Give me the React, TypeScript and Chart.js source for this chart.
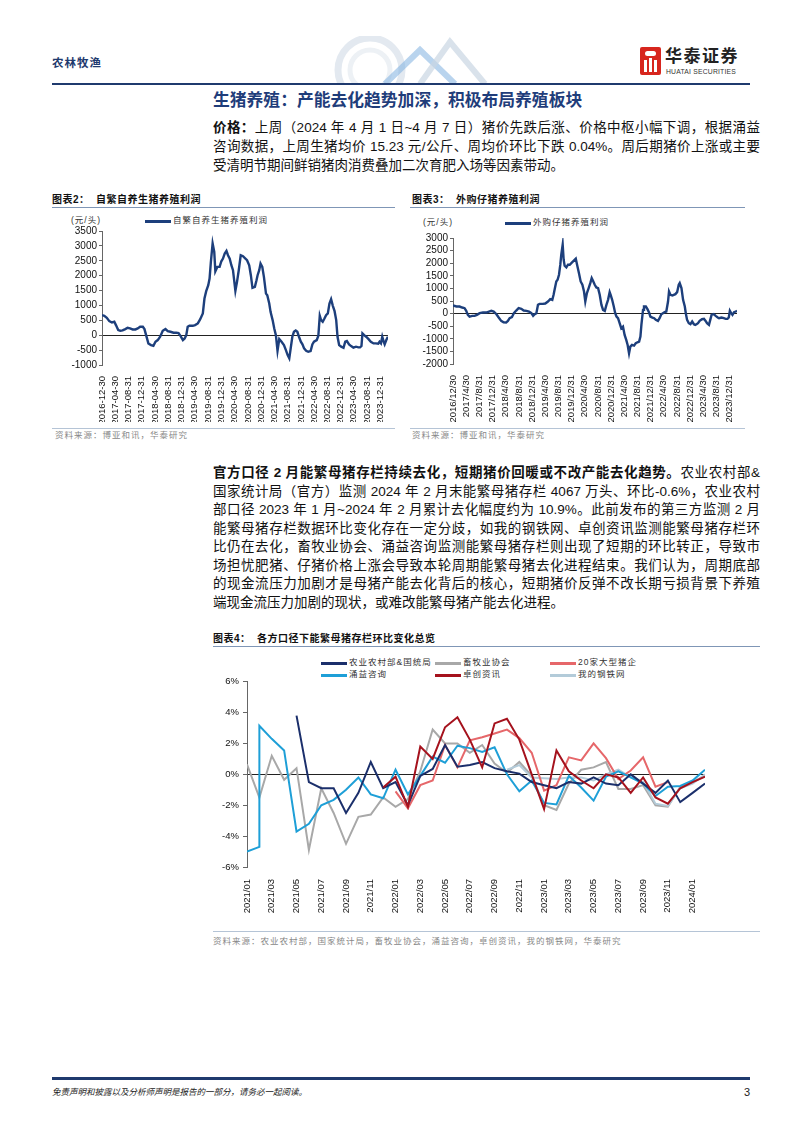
import React, { useEffect, useRef } from 'react';
import { Chart, registerables } from 'chart.js';
Chart.register(...registerables);

const FONT = '"Liberation Sans", Arial, "Noto Sans CJK SC", sans-serif';

// ---------- Chart 2: 自繁自养生猪养殖利润 ----------
const selfDates = ['2016-12-30','2017-01-20','2017-02-12','2017-03-07','2017-03-31','2017-04-22','2017-05-07','2017-05-28','2017-06-16','2017-07-07',
'2017-08-01','2017-08-22','2017-09-13','2017-10-08','2017-11-02','2017-11-23','2017-12-15','2018-01-09','2018-01-24','2018-02-08',
'2018-03-01','2018-03-25','2018-04-16','2018-05-05','2018-05-26','2018-06-17','2018-07-11','2018-08-05','2018-08-26','2018-09-20',
'2018-10-18','2018-11-12','2018-12-03','2018-12-22','2019-01-12','2019-01-28','2019-02-12','2019-02-25','2019-03-13','2019-04-13',
'2019-05-04','2019-05-29','2019-06-19','2019-07-14','2019-07-29','2019-08-14','2019-09-02','2019-09-14','2019-09-26','2019-10-12',
'2019-10-27','2019-11-06','2019-11-24','2019-12-15','2019-12-31','2020-01-15','2020-01-31','2020-02-16','2020-03-01','2020-03-17',
'2020-04-01','2020-04-16','2020-05-08','2020-05-23','2020-06-08','2020-06-26','2020-07-17','2020-08-08','2020-08-23','2020-09-12',
'2020-09-27','2020-10-12','2020-11-03','2020-11-18','2020-11-28','2020-12-13','2020-12-25','2021-01-10','2021-01-25','2021-02-13',
'2021-02-25','2021-03-15','2021-03-27','2021-04-15','2021-04-30','2021-05-15','2021-05-30','2021-06-15','2021-07-06','2021-07-28',
'2021-08-15','2021-08-31','2021-09-15','2021-09-28','2021-10-13','2021-10-28','2021-11-13','2021-11-28','2021-12-13','2021-12-30',
'2022-01-14','2022-01-29','2022-02-17','2022-03-08','2022-03-30','2022-04-15','2022-04-30','2022-05-25','2022-06-09','2022-06-22',
'2022-07-04','2022-07-19','2022-08-04','2022-08-19','2022-09-04','2022-09-19','2022-10-04','2022-10-20','2022-11-05','2022-11-20',
'2022-12-02','2022-12-17','2023-01-05','2023-01-26','2023-02-11','2023-02-26','2023-03-18','2023-04-06','2023-04-27','2023-05-21',
'2023-06-12','2023-06-27','2023-07-10','2023-07-19','2023-08-04','2023-08-22','2023-09-13','2023-10-04','2023-10-29','2023-11-19',
'2023-12-11','2023-12-23','2024-01-05','2024-01-17','2024-01-30','2024-02-08','2024-02-23','2024-03-09'];
const selfProfit = [675,652,585,474,429,451,340,172,150,161,
206,250,228,194,194,228,284,284,206,4,
-275,-331,-353,-219,-163,-51,150,206,139,116,
83,83,71,-29,-163,-107,4,284,317,317,
340,395,529,731,1233,1479,1680,1903,2462,3080,
2797,2149,2294,2294,2484,2573,2741,2830,2685,2573,
2350,2183,1490,1792,2183,2685,2652,2573,2518,2350,
2015,1591,1624,1848,2015,2183,2406,2294,1959,1400,
1345,1066,786,507,228,4,-521,-130,-219,-331,
-499,-666,-777,-443,-51,116,161,116,-51,-219,
-308,-443,-521,-554,-532,-308,-219,-163,-18,652,
507,451,563,675,731,1066,1211,987,808,507,
-51,-331,-386,-420,-219,-197,-308,-364,-420,-386,
-409,-409,-364,60,4,-51,-130,-219,-275,-275,
-286,-219,-275,-51,-219,-308,-163,-51];
const selfTickDates = ['2016-12-30','2017-04-30','2017-08-31','2017-12-31','2018-04-30','2018-08-31','2018-12-31','2019-04-30','2019-08-31','2019-12-31','2020-04-30','2020-08-31','2020-12-31','2021-04-30','2021-08-31','2021-12-31','2022-04-30','2022-08-31','2022-12-31','2023-04-30','2023-08-31','2023-12-31'];
const selfTickLabels = selfTickDates;

// ---------- Chart 3: 外购仔猪养殖利润 ----------
const buyDates = ['2016-12-30','2017-01-31','2017-03-01','2017-03-25','2017-04-16','2017-05-01','2017-05-16','2017-06-01','2017-06-26','2017-07-17',
'2017-08-08','2017-09-02','2017-10-03','2017-11-03','2017-11-27','2017-12-19','2018-01-10','2018-02-04','2018-02-25','2018-03-20',
'2018-04-11','2018-05-05','2018-05-21','2018-06-06','2018-06-27','2018-07-15','2018-08-06','2018-08-28','2018-09-22','2018-10-14',
'2018-11-08','2018-12-02','2018-12-24','2019-01-09','2019-01-24','2019-02-08','2019-02-23','2019-03-10','2019-04-10','2019-05-01',
'2019-05-26','2019-06-16','2019-07-05','2019-07-17','2019-07-29','2019-08-11','2019-08-23','2019-09-05','2019-09-17','2019-09-26',
'2019-10-09','2019-10-18','2019-10-27','2019-11-12','2019-11-27','2019-12-13','2019-12-28','2020-01-13','2020-01-29','2020-02-07',
'2020-02-19','2020-03-07','2020-03-23','2020-04-08','2020-04-23','2020-05-05','2020-05-20','2020-06-05','2020-06-20','2020-07-03',
'2020-07-15','2020-07-31','2020-08-15','2020-08-31','2020-09-15','2020-10-01','2020-10-16','2020-11-01','2020-11-16','2020-12-01',
'2020-12-16','2020-12-25','2021-01-08','2021-01-23','2021-02-05','2021-02-17','2021-03-03','2021-03-18','2021-04-02','2021-04-18',
'2021-05-03','2021-05-18','2021-05-31','2021-06-13','2021-06-25','2021-07-10','2021-07-29','2021-08-14','2021-08-30','2021-09-14',
'2021-09-26','2021-10-05','2021-10-20','2021-10-29','2021-11-15','2021-11-30','2021-12-15','2021-12-27','2022-01-15','2022-01-31',
'2022-02-15','2022-03-07','2022-03-22','2022-04-07','2022-04-22','2022-05-08','2022-05-23','2022-06-08','2022-06-17','2022-06-30',
'2022-07-18','2022-07-31','2022-08-15','2022-08-31','2022-09-15','2022-09-24','2022-10-10','2022-10-25','2022-11-10','2022-11-19',
'2022-12-01','2022-12-17','2023-01-01','2023-01-17','2023-02-02','2023-02-14','2023-02-26','2023-03-12','2023-03-27','2023-04-18',
'2023-05-06','2023-05-21','2023-06-03','2023-06-21','2023-07-03','2023-07-15','2023-08-04','2023-08-22','2023-09-10','2023-09-22',
'2023-10-14','2023-11-05','2023-11-23','2023-12-09','2023-12-21','2023-12-31','2024-01-12','2024-01-24','2024-02-08','2024-02-23','2024-03-06'];
const buyProfit = [321,281,281,241,215,109,-50,-117,-90,-90,
-50,16,42,42,82,109,82,-24,-156,-289,
-342,-355,-289,-183,-143,16,122,215,188,122,
109,82,16,-90,-24,16,347,387,387,400,
480,573,546,745,1010,1276,1342,1541,1939,2336,
2734,2138,1899,1833,1939,1939,2005,2071,2138,2177,
1939,1607,1276,1143,878,480,812,1010,1209,1408,
1302,1143,1037,1010,745,347,149,109,347,546,
851,745,546,281,16,-117,-183,-382,-581,-515,
-846,-1045,-1244,-1575,-1310,-1244,-1270,-1177,-1138,-1111,
-912,-448,149,281,281,175,42,-117,-156,-183,
-249,-289,-183,-24,16,56,82,480,878,745,
719,745,772,851,1143,1209,1010,546,281,16,
-249,-382,-422,-316,-422,-448,-422,-382,-289,-223,
-210,-289,-382,-448,-249,-50,-24,-90,-156,-183,
-156,-183,-210,-210,-156,109,16,-50,56,82,109];
const buyTickDates = selfTickDates;
const buyTickLabels = ['2016/12/30','2017/4/30','2017/8/31','2017/12/31','2018/4/30','2018/8/31','2018/12/31','2019/4/30','2019/8/31','2019/12/31','2020/4/30','2020/8/31','2020/12/31','2021/4/30','2021/8/31','2021/12/31','2022/4/30','2022/8/31','2022/12/31','2023/4/30','2023/8/31','2023/12/31'];

// ---------- Chart 4: 各方口径下能繁母猪存栏环比变化 (%) ----------
const months = ['2021/01','2021/02','2021/03','2021/04','2021/05','2021/06','2021/07','2021/08','2021/09','2021/10','2021/11','2021/12',
'2022/01','2022/02','2022/03','2022/04','2022/05','2022/06','2022/07','2022/08','2022/09','2022/10','2022/11','2022/12',
'2023/01','2023/02','2023/03','2023/04','2023/05','2023/06','2023/07','2023/08','2023/09','2023/10','2023/11','2023/12',
'2024/01','2024/02'];
const N = null;
const ministry = [N,N,N,N,3.8,-0.5,-0.9,-0.9,-2.5,-1.2,0.8,-0.9,-0.5,-2.0,-0.1,0.35,1.9,0.5,0.6,0.8,0.4,0.2,0.05,-0.5,-0.7,-0.9,-0.5,-0.6,-0.2,-0.6,-0.7,0.0,-0.6,-1.2,-0.4,-1.8,-1.2,-0.6];
const association = [0.65,-1.5,1.2,-0.35,0.4,-4.9,-0.9,-2.5,-4.5,-2.75,-2.6,-1.5,-2.1,-1.6,0.2,2.9,2.0,2.0,1.4,1.9,0.7,0.1,0.8,-0.1,-2.0,-2.3,-0.6,0.3,0.45,0.8,-0.95,-0.95,-0.7,-2.0,-2.1,-0.8,-0.5,-0.1];
const big20 = [N,N,N,N,N,N,N,N,N,N,N,N,-1.1,-2.2,-0.7,-0.4,1.9,0.45,2.2,2.4,2.65,2.9,2.35,1.4,-1.05,-0.7,1.1,0.9,2.0,1.05,-0.3,0.25,1.1,-0.8,-0.5,N,N,N];
const yongyi = [-5.0,3.15,2.3,1.55,-3.7,-3.2,-2.0,-1.65,-1.0,-0.2,-1.3,-1.55,0.3,-1.3,-0.1,1.15,0.75,1.85,1.7,1.45,1.75,0.0,-1.1,-0.4,-1.85,-1.95,-0.1,-0.85,-1.7,-0.15,0.2,-0.2,-0.6,-1.4,-0.8,-0.75,-0.4,0.3];
const yongyiFeb2021Low = -4.7;
const zhuochuang = [N,N,N,N,N,N,N,N,N,N,N,-0.85,-0.15,-2.1,1.8,1.0,3.05,3.7,2.25,0.45,3.3,3.6,2.25,0.0,-2.25,1.55,0.2,-0.4,-0.9,0.0,-0.2,-1.2,-0.2,-1.5,-1.9,-0.9,-0.5,-0.15];
const mysteel = [N,N,N,N,N,N,N,N,N,N,N,N,N,N,N,N,N,N,N,N,N,0.3,0.6,-0.2,-0.25,-0.3,-0.2,-0.2,-0.4,0.0,0.3,-0.2,-0.5,-1.9,-2.05,-0.9,-0.6,0.0];

const toMs = (d: string) => { const [y, m, dd] = d.split('-').map(Number); return Date.UTC(y, m - 1, dd); };

function ProfitChart(props: any) {
  const ref = useRef<HTMLCanvasElement>(null);
  const { left, top, w, h, yW, xH, padTop, padRight, dates, values, tickDates, tickLabels, yMin, yMax, step } = props;
  useEffect(() => {
    const pts = values.map((v: number, i: number) => ({ x: toMs(dates[i]), y: v }));
    const chart = new Chart(ref.current as HTMLCanvasElement, {
      type: 'line',
      data: { datasets: [{ data: pts, borderColor: '#1d3f7c', borderWidth: 2.4, pointRadius: 0, tension: 0, fill: false }] },
      options: {
        animation: false, responsive: false, devicePixelRatio: 1,
        layout: { padding: { top: padTop, right: padRight, left: 0, bottom: 0 } },
        plugins: { legend: { display: false }, tooltip: { enabled: false } },
        scales: {
          x: {
            type: 'linear', min: toMs(dates[0]), max: toMs(dates[dates.length - 1]),
            afterBuildTicks: (s: any) => { s.ticks = tickDates.map((d: string) => ({ value: toMs(d) })); },
            afterFit: (s: any) => { s.height = xH; },
            ticks: { autoSkip: false, minRotation: 90, maxRotation: 90, padding: 3, color: '#111', font: { family: FONT, size: 9.5 }, callback: (_v: any, i: number) => tickLabels[i] },
            grid: { display: false }, border: { display: false },
          },
          y: {
            min: yMin, max: yMax,
            afterFit: (s: any) => { s.width = yW; },
            ticks: { stepSize: step, autoSkip: false, padding: 2, color: '#111', font: { family: FONT, size: 10 }, callback: (v: any) => String(v) },
            grid: { color: (c: any) => (c.tick && c.tick.value === 0 ? '#222' : 'rgba(0,0,0,0)'), tickColor: '#666', tickLength: 3, lineWidth: 1 },
            border: { display: true, color: '#666', width: 1 },
          },
        },
      },
    } as any);
    return () => chart.destroy();
  }, []);
  return <canvas ref={ref} width={w} height={h} style={{ position: 'absolute', left, top, width: w, height: h }} />;
}

function SowChart() {
  const ref = useRef<HTMLCanvasElement>(null);
  useEffect(() => {
    const toPts = (arr: (number | null)[]) => arr.map((v, i) => ({ x: i, y: v }));
    const yongyiPts = toPts(yongyi);
    yongyiPts.splice(1, 0, { x: 1, y: yongyiFeb2021Low });
    const ds = (label: string, pts: any[], color: string, order: number) => ({ label, data: pts, borderColor: color, borderWidth: 2, pointRadius: 0, tension: 0, fill: false, spanGaps: false, order });
    const chart = new Chart(ref.current as HTMLCanvasElement, {
      type: 'line',
      data: {
        datasets: [
          ds('农业农村部&国统局', toPts(ministry), '#1b2f6b', 1),
          ds('畜牧业协会', toPts(association), '#a8a8a8', 5),
          ds('20家大型猪企', toPts(big20), '#e6676a', 3),
          ds('涌益咨询', yongyiPts, '#1e9fd7', 2),
          ds('卓创资讯', toPts(zhuochuang), '#a5121d', 0),
          ds('我的钢铁网', toPts(mysteel), '#b3cbd9', 4),
        ],
      },
      options: {
        animation: false, responsive: false, devicePixelRatio: 1,
        layout: { padding: { top: 7, right: 55, left: 0, bottom: 0 } },
        plugins: { legend: { display: false }, tooltip: { enabled: false } },
        scales: {
          x: {
            type: 'linear', min: 0, max: months.length - 1,
            afterBuildTicks: (s: any) => { s.ticks = months.map((_m, i) => i).filter((i) => i % 2 === 0).map((v) => ({ value: v })); },
            afterFit: (s: any) => { s.height = 63; },
            ticks: { autoSkip: false, minRotation: 90, maxRotation: 90, padding: 4, color: '#111', font: { family: FONT, size: 9.5 }, callback: (v: any) => months[v] },
            grid: { display: false }, border: { display: false },
          },
          y: {
            min: -6, max: 6,
            afterFit: (s: any) => { s.width = 34; },
            ticks: { stepSize: 2, autoSkip: false, padding: 4, color: '#111', font: { family: FONT, size: 9.5 }, callback: (v: any) => v + '%' },
            grid: { color: (c: any) => (c.tick && c.tick.value === 0 ? '#222' : 'rgba(0,0,0,0)'), tickColor: '#666', tickLength: 4, lineWidth: 1 },
            border: { display: true, color: '#666', width: 1 },
          },
        },
      },
    } as any);
    return () => chart.destroy();
  }, []);
  return <canvas ref={ref} width={547} height={258} style={{ position: 'absolute', left: 213, top: 672, width: 547, height: 258 }} />;
}

const Txt = ({ x, y, size, children, style }: any) => (
  <div style={{ position: 'absolute', left: x, top: y - size * 0.7, fontSize: size, lineHeight: `${size * 1.4}px`, whiteSpace: 'nowrap', fontFamily: FONT, color: '#111', ...style }}>{children}</div>
);
const HLine = ({ x, y, w, h, c }: any) => <div style={{ position: 'absolute', left: x, top: y, width: w, height: h, background: c }} />;

const LegendItem = ({ x, y, color, label, size = 8.5, lw = 26 }: any) => (
  <>
    <div style={{ position: 'absolute', left: x, top: y - 1.5, width: lw, height: 3, background: color }} />
    <Txt x={x + lw + 2} y={y} size={size} style={{ color: '#333', letterSpacing: 1 }}>{label}</Txt>
  </>
);

const Para = ({ top, lines, lh }: any) => (
  <div style={{ position: 'absolute', left: 213, top, width: 547, fontFamily: FONT, fontSize: 13.5, lineHeight: `${lh}px`, color: '#111' }}>
    {lines.map((l: any, i: number) => (
      <div key={i} style={{ textAlign: 'justify', textAlignLast: i === lines.length - 1 ? 'left' : 'justify', height: lh }}>{l}</div>
    ))}
  </div>
);

export default function App() {
  useEffect(() => { document.body.style.margin = '0'; }, []);
  const p1 = [
    <><b>价格：</b>上周（2024 年 4 月 1 日~4 月 7 日）猪价先跌后涨、价格中枢小幅下调，根据涌益</>,
    <>咨询数据，上周生猪均价 15.23 元/公斤、周均价环比下跌 0.04%。周后期猪价上涨或主要</>,
    <>受清明节期间鲜销猪肉消费叠加二次育肥入场等因素带动。</>,
  ];
  const p2 = [
    <><b>官方口径 2 月能繁母猪存栏持续去化，短期猪价回暖或不改产能去化趋势。</b>农业农村部&amp;</>,
    <>国家统计局（官方）监测 2024 年 2 月末能繁母猪存栏 4067 万头、环比-0.6%，农业农村</>,
    <>部口径 2023 年 1 月~2024 年 2 月累计去化幅度约为 10.9%。此前发布的第三方监测 2 月</>,
    <>能繁母猪存栏数据环比变化存在一定分歧，如我的钢铁网、卓创资讯监测能繁母猪存栏环</>,
    <>比仍在去化，畜牧业协会、涌益咨询监测能繁母猪存栏则出现了短期的环比转正，导致市</>,
    <>场担忧肥猪、仔猪价格上涨会导致本轮周期能繁母猪去化进程结束。我们认为，周期底部</>,
    <>的现金流压力加剧才是母猪产能去化背后的核心，短期猪价反弹不改长期亏损背景下养殖</>,
    <>端现金流压力加剧的现状，或难改能繁母猪产能去化进程。</>,
  ];
  return (
    <div style={{ position: 'absolute', left: 0, top: 0, width: 802, height: 1133, background: '#fff', overflow: 'hidden', fontFamily: FONT }}>
      {/* header decoration */}
      <svg style={{ position: 'absolute', left: 290, top: 36, width: 210, height: 48 }} viewBox="0 0 210 48">
        <circle cx="80" cy="34" r="32" fill="none" stroke="#e3e9f0" strokeWidth="7" />
        <circle cx="80" cy="34" r="20" fill="none" stroke="#edf1f5" strokeWidth="5" />
        <polyline points="95,48 130,14 165,48" fill="none" stroke="#7fb0e0" strokeWidth="6" opacity="0.55" />
        <polyline points="130,48 160,6 195,48" fill="none" stroke="#c9d6e3" strokeWidth="6" opacity="0.7" />
      </svg>
      <Txt x={52} y={63} size={11.5} style={{ color: '#1f3a6e', fontWeight: 700, letterSpacing: 1 }}>农林牧渔</Txt>
      {/* logo */}
      <div style={{ position: 'absolute', left: 640, top: 47, width: 21, height: 28, background: '#d7261e', borderRadius: 2 }}>
        <div style={{ position: 'absolute', left: 4, top: 13, width: 3, height: 12, background: '#fff' }} />
        <div style={{ position: 'absolute', left: 9, top: 11, width: 3, height: 14, background: '#fff' }} />
        <div style={{ position: 'absolute', left: 14, top: 13, width: 3, height: 12, background: '#fff' }} />
        <div style={{ position: 'absolute', left: 5, top: 4, width: 11, height: 5, borderRadius: 3, background: '#fff' }} />
      </div>
      <Txt x={665} y={57} size={17} style={{ fontWeight: 700, color: '#222', letterSpacing: 1.5 }}>华泰证券</Txt>
      <Txt x={666} y={72} size={6.8} style={{ color: '#333', letterSpacing: 0.2 }}>HUATAI SECURITIES</Txt>
      <HLine x={52} y={83} w={698} h={2} c="#1f3a6e" />

      <Txt x={213} y={101} size={16.8} style={{ color: '#1f3d7a', fontWeight: 700 }}>生猪养殖：产能去化趋势加深，积极布局养殖板块</Txt>
      <Para top={117.5} lines={p1} lh={19} />

      {/* chart 2 */}
      <Txt x={52} y={200} size={10} style={{ fontWeight: 700, letterSpacing: 0.5 }}>图表2：&nbsp;&nbsp;自繁自养生猪养殖利润</Txt>
      <HLine x={52} y={207} w={343} h={1} c="#7f96b6" />
      <Txt x={71} y={221} size={8.5} style={{ color: '#333', letterSpacing: 1 }}>(元/头)</Txt>
      <LegendItem x={145} y={221} color="#1d3f7c" label="自繁自养生猪养殖利润" />
      <ProfitChart left={52} top={212} w={343} h={210} yW={50} xH={57} padTop={19} padRight={7}
        dates={selfDates} values={selfProfit} tickDates={selfTickDates} tickLabels={selfTickLabels} yMin={-1000} yMax={3500} step={500} />
      <HLine x={52} y={428} w={343} h={1} c="#b5c4d6" />
      <Txt x={55} y={436} size={8.5} style={{ color: '#888', letterSpacing: 1 }}>资料来源：博亚和讯，华泰研究</Txt>

      {/* chart 3 */}
      <Txt x={412} y={200} size={10} style={{ fontWeight: 700, letterSpacing: 0.5 }}>图表3：&nbsp;&nbsp;外购仔猪养殖利润</Txt>
      <HLine x={410} y={207} w={335} h={1} c="#7f96b6" />
      <Txt x={423} y={223} size={8.5} style={{ color: '#333', letterSpacing: 1 }}>(元/头)</Txt>
      <LegendItem x={505} y={223} color="#1d3f7c" label="外购仔猪养殖利润" />
      <ProfitChart left={405} top={212} w={340} h={210} yW={48} xH={58} padTop={26} padRight={8}
        dates={buyDates} values={buyProfit} tickDates={buyTickDates} tickLabels={buyTickLabels} yMin={-2000} yMax={3000} step={500} />
      <HLine x={410} y={428} w={335} h={1} c="#b5c4d6" />
      <Txt x={412} y={436} size={8.5} style={{ color: '#888', letterSpacing: 1 }}>资料来源：博亚和讯，华泰研究</Txt>

      <Para top={464} lines={p2} lh={18.57} />

      {/* chart 4 */}
      <Txt x={213} y={639} size={10} style={{ fontWeight: 700, letterSpacing: 0.5 }}>图表4：&nbsp;&nbsp;各方口径下能繁母猪存栏环比变化总览</Txt>
      <HLine x={213} y={646} w={547} h={1} c="#7f96b6" />
      <LegendItem x={321} y={663} color="#1b2f6b" label="农业农村部&国统局" />
      <LegendItem x={435} y={663} color="#a8a8a8" label="畜牧业协会" />
      <LegendItem x={550} y={663} color="#e6676a" label="20家大型猪企" />
      <LegendItem x={321} y={675} color="#1e9fd7" label="涌益咨询" />
      <LegendItem x={435} y={675} color="#a5121d" label="卓创资讯" />
      <LegendItem x={550} y={675} color="#b3cbd9" label="我的钢铁网" />
      <SowChart />
      <HLine x={213} y={931} w={547} h={1} c="#b5c4d6" />
      <Txt x={213} y={942} size={8.5} style={{ color: '#888', letterSpacing: 1 }}>资料来源：农业农村部，国家统计局，畜牧业协会，涌益咨询，卓创资讯，我的钢铁网，华泰研究</Txt>

      {/* footer */}
      <HLine x={52} y={1077} w={698} h={2.5} c="#1f3a6e" />
      <Txt x={52} y={1093} size={8.5} style={{ fontStyle: 'italic', color: '#222' }}>免责声明和披露以及分析师声明是报告的一部分，请务必一起阅读。</Txt>
      <Txt x={744} y={1093} size={11} style={{ color: '#222' }}>3</Txt>
    </div>
  );
}
